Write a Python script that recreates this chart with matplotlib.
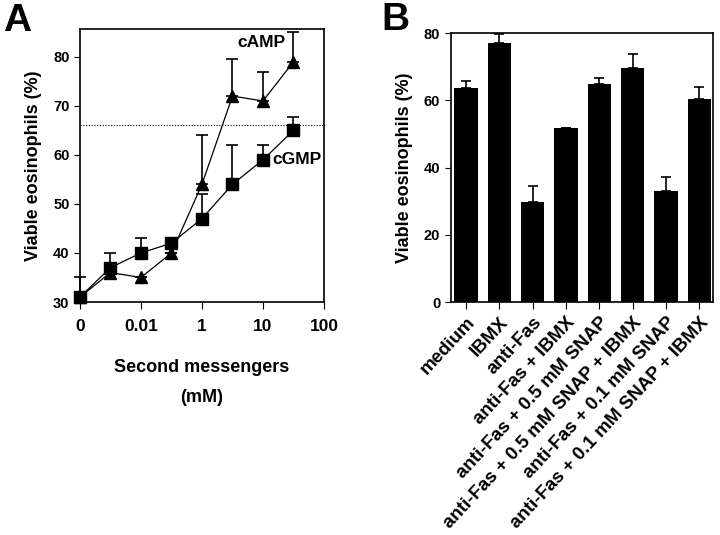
import matplotlib.pyplot as plt

plt.rcParams['font.family'] = ['Liberation Sans', 'DejaVu Sans']
plt.rcParams['font.weight'] = 'bold'
plt.rcParams['axes.labelweight'] = 'bold'

# Panel A: viability vs second messenger concentration
conc_labels = ['0', '0.01', '1', '10', '100']
conc_pos = [0, 1, 2, 3, 4, 5, 6, 7]
camp = [31, 36, 35, 40, 54, 72, 71, 79]
camp_err = [4, 0, 0, 0, 10, 7.5, 6, 6]
cgmp = [31, 37, 40, 42, 47, 54, 59, 65]
cgmp_err = [0, 3, 3, 0, 5, 8, 3, 2.7]
control_level = 66

# Panel B: treatments
treatments = ['medium', 'IBMX', 'anti-Fas', 'anti-Fas + IBMX',
              'anti-Fas + 0.5 mM SNAP', 'anti-Fas + 0.5 mM SNAP + IBMX',
              'anti-Fas + 0.1 mM SNAP', 'anti-Fas + 0.1 mM SNAP + IBMX']
viable = [63.7, 77, 29.8, 51.7, 64.8, 69.6, 33, 60.4]
viable_err = [2.2, 2.8, 4.6, 0, 1.9, 4.1, 4.1, 3.5]

fig = plt.figure(figsize=(7.2, 5.35), dpi=100)

axA = fig.add_axes([0.111, 0.4355, 0.339, 0.5105])
axA.errorbar(conc_pos, camp, yerr=[[0] * len(camp), camp_err], color='black',
             marker='^', markersize=8.5, linewidth=0.9, capsize=4, elinewidth=1.2,
             capthick=1.2, clip_on=False, zorder=3)
axA.errorbar(conc_pos, cgmp, yerr=[[0] * len(cgmp), cgmp_err], color='black',
             marker='s', markersize=8.5, linewidth=0.9, capsize=4, elinewidth=1.2,
             capthick=1.2, clip_on=False, zorder=3)
axA.axhline(control_level, color='black', linestyle=(0, (1, 1.5)), linewidth=0.8)
axA.set_xlim(0, 8)
axA.set_ylim(30, 85.7)
axA.set_xticks([0, 2, 4, 6, 8])
axA.set_xticklabels(conc_labels, fontsize=12.5)
axA.set_yticks([30, 40, 50, 60, 70, 80])
axA.tick_params(axis='y', labelsize=10.5, direction='out', length=4)
axA.tick_params(axis='x', direction='out', length=5, pad=7)
axA.set_ylabel('Viable eosinophils (%)', fontsize=13, labelpad=8)
axA.text(0.5, -0.238, 'Second messengers', transform=axA.transAxes,
         ha='center', va='center', fontsize=13)
axA.text(0.5, -0.348, '(mM)', transform=axA.transAxes,
         ha='center', va='center', fontsize=13)
axA.text(5.15, 83, 'cAMP', fontsize=12.5, va='center')
axA.text(6.3, 59, 'cGMP', fontsize=12.5, va='center')
for s in axA.spines.values():
    s.set_linewidth(1.2)

axB = fig.add_axes([0.626, 0.4355, 0.364, 0.5025])
xs = range(len(treatments))
axB.bar(xs, viable, width=0.7, color='black', zorder=2)
axB.errorbar(xs, viable, yerr=[[0] * len(viable), viable_err], fmt='none',
             ecolor='black', capsize=3.5, elinewidth=1.2, capthick=1.2,
             clip_on=False)
axB.set_xlim(-0.46, 7.4)
axB.set_ylim(0, 80)
axB.set_yticks([0, 20, 40, 60, 80])
axB.set_xticks(list(xs))
axB.set_xticklabels(treatments, rotation=47, ha='right',
                    rotation_mode='anchor', fontsize=13.5)
axB.tick_params(axis='y', labelsize=10.5, direction='out', length=4)
axB.tick_params(axis='x', direction='out', length=5)
axB.set_ylabel('Viable eosinophils (%)', fontsize=13, labelpad=8)
for s in axB.spines.values():
    s.set_linewidth(1.2)

fig.text(0.004, 0.995, 'A', fontsize=28, fontweight='bold', va='top')
fig.text(0.529, 0.997, 'B', fontsize=28, fontweight='bold', va='top')

fig.savefig('out.png', dpi=100)
